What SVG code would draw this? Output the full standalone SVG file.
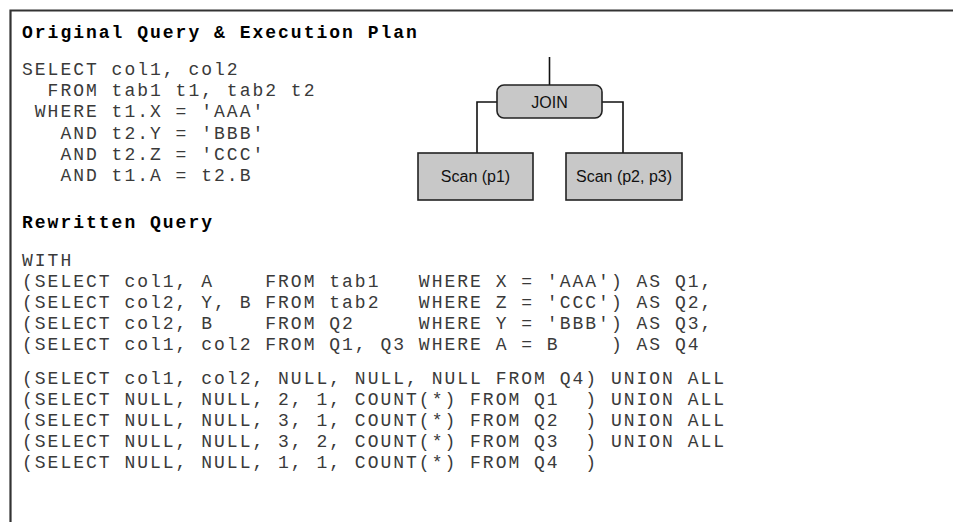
<svg xmlns="http://www.w3.org/2000/svg" width="953" height="522" viewBox="0 0 953 522" xml:space="preserve">
<style>
.code{font-family:"Liberation Mono","Courier New",monospace;font-size:18px;letter-spacing:2px;fill:#3a3a3a;white-space:pre}
.hdr{font-family:"Liberation Mono","Courier New",monospace;font-size:18px;letter-spacing:2px;font-weight:bold;fill:#000;white-space:pre}
.box{fill:#c8c8c8;stroke:#222;stroke-width:1.6}
.lbl{font-family:"Liberation Sans",Arial,sans-serif;font-size:16px;fill:#111;text-anchor:middle}
.conn{fill:none;stroke:#111;stroke-width:1.6}
</style>
<rect x="0" y="0" width="953" height="522" fill="#fff"/>
<g id="frame"><path d="M10.5 522 V10.5 H953" fill="none" stroke="#333" stroke-width="2.2"/></g>
<g id="original-query">
<text class="hdr" x="22" y="38">Original Query &amp; Execution Plan</text>
<text class="code" x="22" y="75">SELECT col1, col2</text>
<text class="code" x="22" y="96">  FROM tab1 t1, tab2 t2</text>
<text class="code" x="22" y="117"> WHERE t1.X = 'AAA'</text>
<text class="code" x="22" y="139">   AND t2.Y = 'BBB'</text>
<text class="code" x="22" y="160">   AND t2.Z = 'CCC'</text>
<text class="code" x="22" y="181">   AND t1.A = t2.B</text>
</g>
<g id="connectors">
<path class="conn" d="M549.5 57 V85"/>
<path class="conn" d="M497 102 H477 V153"/>
<path class="conn" d="M602 102 H623 V153"/>
</g>
<g id="join"><rect class="box" x="497" y="85" width="105" height="33" rx="7"/><text class="lbl" x="549.5" y="107.5">JOIN</text></g>
<g id="scan-p1"><rect class="box" x="418" y="153" width="115" height="47"/><text class="lbl" x="475.5" y="182">Scan (p1)</text></g>
<g id="scan-p2-p3"><rect class="box" x="566" y="153" width="116" height="47"/><text class="lbl" x="624" y="182">Scan (p2, p3)</text></g>
<g id="rewritten-query">
<text class="hdr" x="22" y="228">Rewritten Query</text>
<text class="code" x="22" y="266">WITH</text>
<text class="code" x="22" y="287">(SELECT col1, A    FROM tab1   WHERE X = 'AAA') AS Q1,</text>
<text class="code" x="22" y="308">(SELECT col2, Y, B FROM tab2   WHERE Z = 'CCC') AS Q2,</text>
<text class="code" x="22" y="329">(SELECT col2, B    FROM Q2     WHERE Y = 'BBB') AS Q3,</text>
<text class="code" x="22" y="350">(SELECT col1, col2 FROM Q1, Q3 WHERE A = B    ) AS Q4</text>
<text class="code" x="22" y="384">(SELECT col1, col2, NULL, NULL, NULL FROM Q4) UNION ALL</text>
<text class="code" x="22" y="405">(SELECT NULL, NULL, 2, 1, COUNT(*) FROM Q1  ) UNION ALL</text>
<text class="code" x="22" y="426">(SELECT NULL, NULL, 3, 1, COUNT(*) FROM Q2  ) UNION ALL</text>
<text class="code" x="22" y="447">(SELECT NULL, NULL, 3, 2, COUNT(*) FROM Q3  ) UNION ALL</text>
<text class="code" x="22" y="468">(SELECT NULL, NULL, 1, 1, COUNT(*) FROM Q4  )</text>
</g>
</svg>
